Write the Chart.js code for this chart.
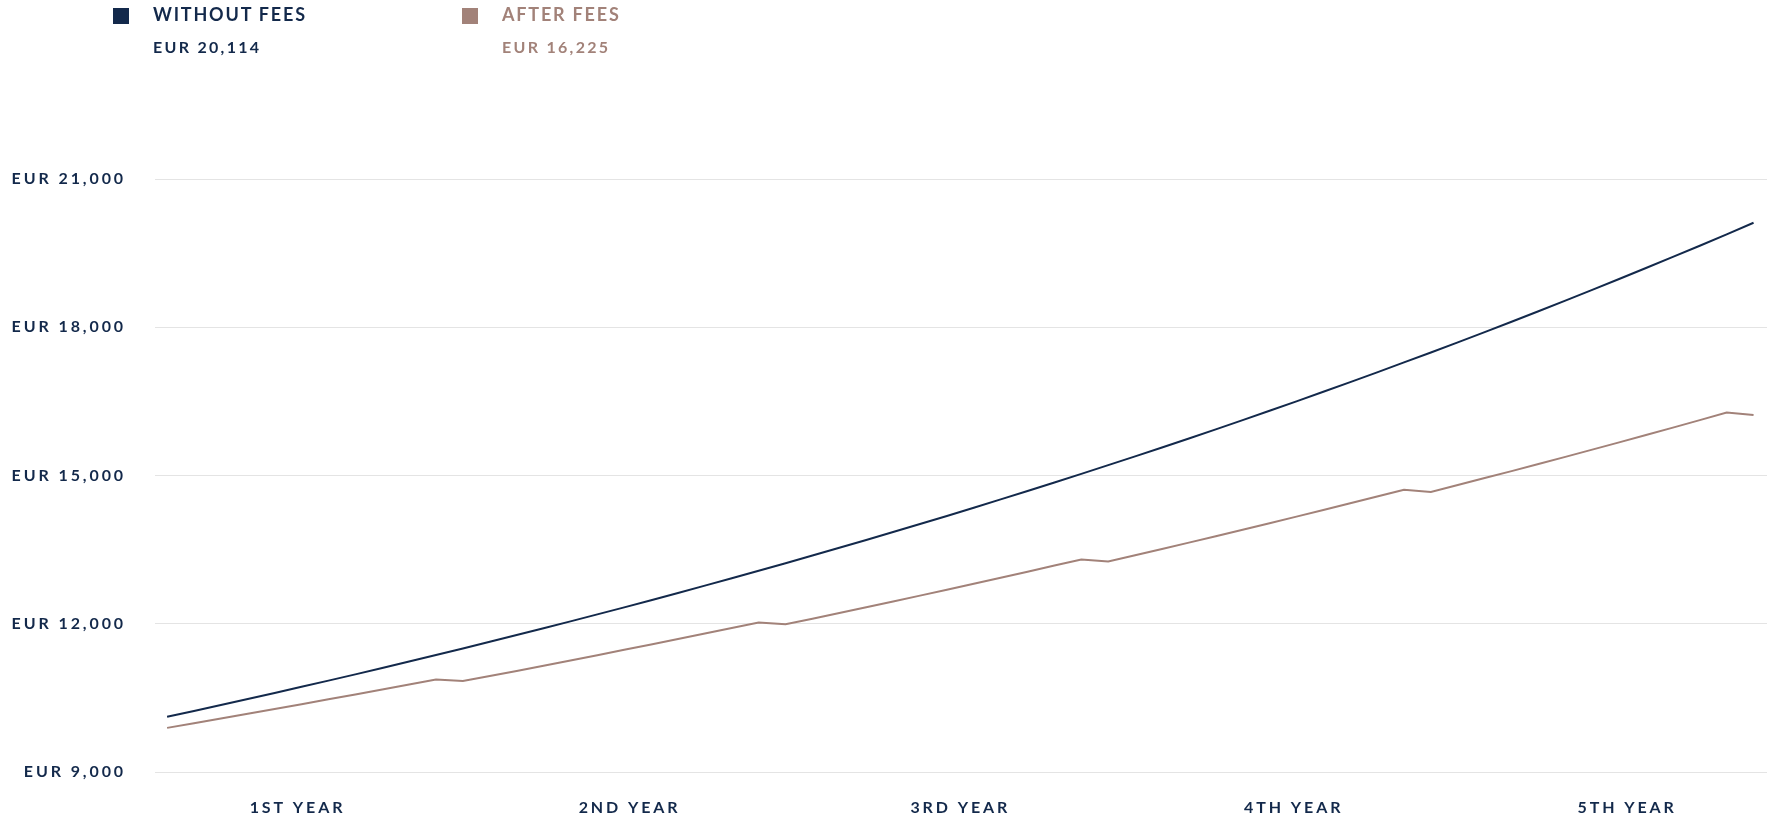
<!DOCTYPE html>
<html>
<head>
<meta charset="utf-8">
<script src="https://cdn.jsdelivr.net/npm/chart.js@4.4.1/dist/chart.umd.min.js"></script>
<style>
  html, body { margin: 0; padding: 0; background: #fff; }
  body { width: 1767px; height: 820px; position: relative; overflow: hidden; font-family: Lato, sans-serif; }
  .chart-wrap { position: absolute; left: 0; top: 0; width: 1767px; height: 820px; }
  .legend-item { position: absolute; top: 0; }
  .legend-swatch { position: absolute; top: 8px; width: 16px; height: 16px; }
  .legend-label { position: absolute; top: 3px; font-size: 18px; font-weight: 700; letter-spacing: 1.8px; white-space: nowrap; }
  .legend-value { position: absolute; top: 37px; font-size: 16px; font-weight: 700; letter-spacing: 2.3px; white-space: nowrap; }
</style>
</head>
<body>
<div class="chart-wrap"><canvas id="growthChart" width="1767" height="820"></canvas></div>
<div id="legend"></div>
<script>
const NAVY = '#13294b';
const TAUPE = '#a28279';

// month-by-month portfolio values over 5 years (60 points)
const withoutFees = [
  10117, 10236, 10356, 10477, 10600, 10724, 10849, 10976, 11105, 11235, 11367, 11500,
  11635, 11771, 11909, 12048, 12190, 12332, 12477, 12623, 12771, 12921, 13072, 13225,
  13380, 13537, 13695, 13856, 14018, 14182, 14348, 14516, 14687, 14859, 15033, 15209,
  15387, 15567, 15750, 15934, 16121, 16310, 16501, 16694, 16890, 17087, 17288, 17490,
  17695, 17902, 18112, 18324, 18539, 18756, 18976, 19198, 19423, 19650, 19881, 20114
];
const afterFees = [
  9893, 9987, 10082, 10177, 10274, 10371, 10470, 10569, 10669, 10771, 10873, 10840,
  10943, 11046, 11151, 11257, 11364, 11472, 11580, 11690, 11801, 11913, 12026, 11989,
  12103, 12218, 12334, 12451, 12569, 12688, 12809, 12930, 13053, 13177, 13302, 13261,
  13387, 13514, 13642, 13772, 13902, 14034, 14168, 14302, 14438, 14575, 14713, 14668,
  14807, 14948, 15089, 15233, 15377, 15523, 15670, 15819, 15969, 16121, 16274, 16225
];

const yearLabels = ['1ST YEAR', '2ND YEAR', '3RD YEAR', '4TH YEAR', '5TH YEAR'];
// where the year labels sit, in month-index units
const yearTickPos = [4.85, 17.2, 29.5, 41.9, 54.3];
const yTicks = [9000, 12000, 15000, 18000, 21000];

const fmt = v => 'EUR ' + Math.round(v).toLocaleString('en-US');

function renderLegend() {
  const items = [
    { label: 'WITHOUT FEES', value: withoutFees[withoutFees.length - 1], color: NAVY, x: 113 },
    { label: 'AFTER FEES', value: afterFees[afterFees.length - 1], color: TAUPE, x: 462 }
  ];
  document.getElementById('legend').innerHTML = items.map(it => `
    <div class="legend-item" style="left:${it.x}px">
      <div class="legend-swatch" style="left:0;background:${it.color}"></div>
      <div class="legend-label" style="left:40px;color:${it.color}">${it.label}</div>
      <div class="legend-value" style="left:40px;color:${it.color}">${fmt(it.value)}</div>
    </div>`).join('');
}

const spacing = {
  id: 'letterSpacing',
  beforeDraw(chart) { chart.ctx.letterSpacing = '2.9px'; }
};

function renderChart() {
  const toPoints = arr => arr.map((v, i) => ({ x: i, y: v }));
  new Chart(document.getElementById('growthChart'), {
    type: 'line',
    data: {
      datasets: [
        { label: 'Without fees', data: toPoints(withoutFees), borderColor: NAVY, borderWidth: 2, pointRadius: 0, tension: 0 },
        { label: 'After fees', data: toPoints(afterFees), borderColor: TAUPE, borderWidth: 2, pointRadius: 0, tension: 0 }
      ]
    },
    options: {
      responsive: false,
      animation: false,
      layout: { padding: { top: 179, right: 0, bottom: 0, left: 0 } },
      plugins: { legend: { display: false }, tooltip: { enabled: false } },
      scales: {
        x: {
          type: 'linear',
          min: -0.45,
          max: 59.5,
          border: { display: false },
          grid: { display: false, drawTicks: false },
          afterBuildTicks: s => { s.ticks = yearTickPos.map(v => ({ value: v })); },
          afterFit: s => { s.height = 48; },
          ticks: {
            autoSkip: false,
            maxRotation: 0,
            padding: 26,
            color: NAVY,
            font: { family: 'Lato', size: 16, weight: 'bold' },
            callback: (v, i) => yearLabels[i]
          }
        },
        y: {
          min: 9000,
          max: 21000,
          border: { display: false },
          grid: { color: '#e4e4e4', lineWidth: 1, drawTicks: false },
          afterBuildTicks: s => { s.ticks = yTicks.map(v => ({ value: v })); },
          afterFit: s => { s.width = 155; },
          ticks: {
            padding: 29,
            color: NAVY,
            font: { family: 'Lato', size: 16, weight: 'bold' },
            callback: v => fmt(v)
          }
        }
      }
    },
    plugins: [spacing]
  });
}

renderLegend();
renderChart();
</script>
</body>
</html>
